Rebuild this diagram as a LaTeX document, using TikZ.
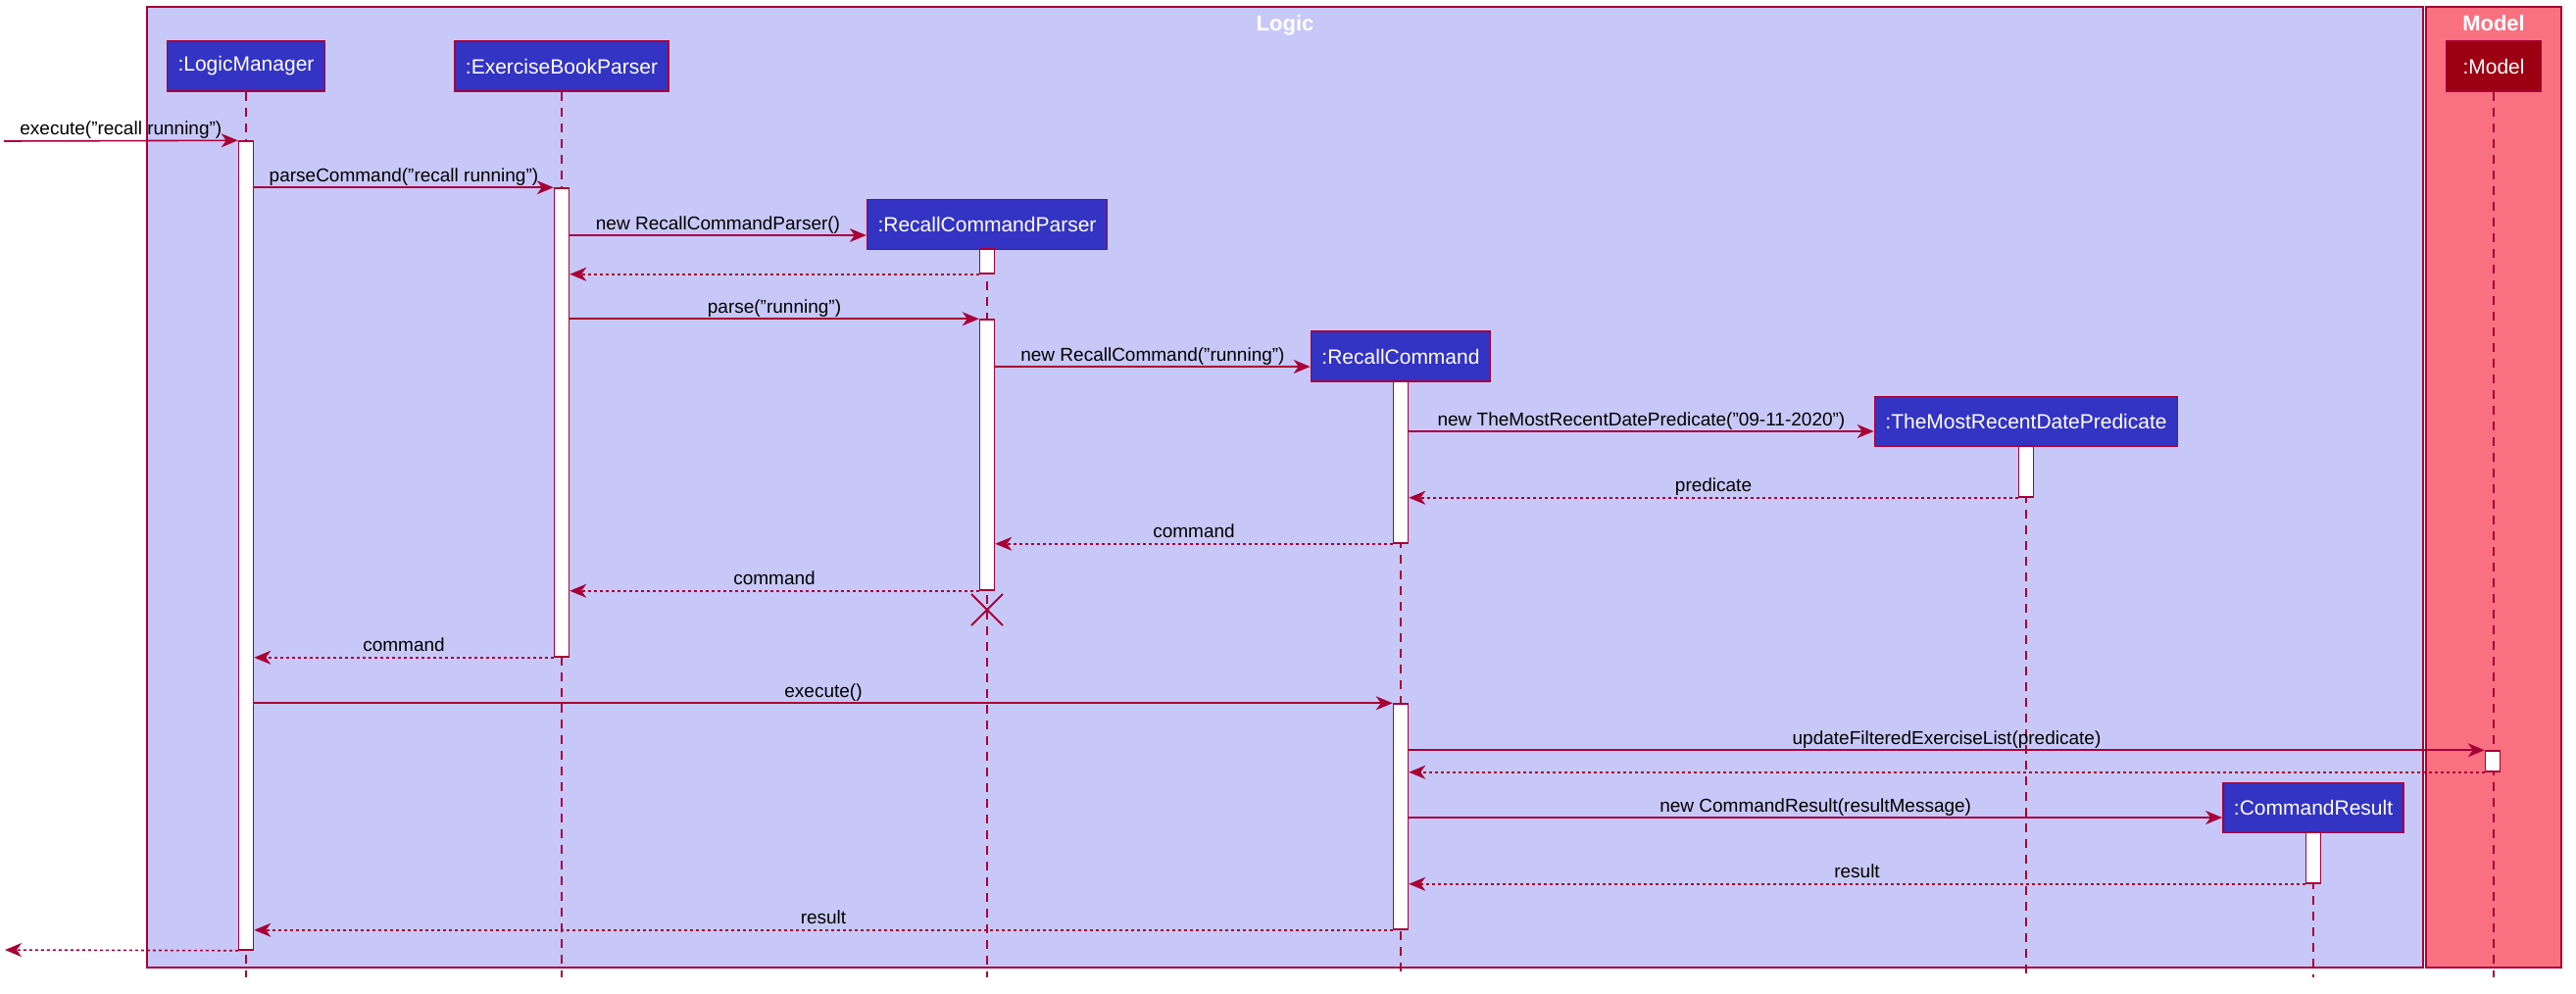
\documentclass[tikz,border=0pt]{standalone}
\usepackage{fontspec}
\setmainfont{Liberation Sans}
\usetikzlibrary{arrows.meta,shapes.misc}

\definecolor{umlline}{RGB}{168,0,54}
\definecolor{logicbg}{RGB}{200,200,248}
\definecolor{modelbg}{RGB}{249,113,129}
\definecolor{logicpart}{RGB}{51,51,196}
\definecolor{modelpart}{RGB}{157,0,18}

\tikzset{
  grpbox/.style={draw=umlline, line width=1.5pt, inner sep=0pt},
  grptitle/.style={anchor=base, text=white, inner sep=0pt, font=\fontsize{22}{26}\selectfont\bfseries},
  part/.style={draw=umlline, line width=1.5pt, fill=logicpart, text=white,
    font=\fontsize{21}{24}\selectfont, minimum height=51pt, inner xsep=11pt},
  actbar/.style={draw=umlline, line width=1.5pt, fill=white, minimum width=15pt, inner sep=0pt},
  lifeline/.style={draw=umlline, line width=1.5pt, dash pattern=on 9pt off 7pt},
  msg/.style={draw=umlline, line width=1.6pt, -{Stealth[length=17pt,width=14pt,inset=5pt]}},
  ret/.style={msg, dash pattern=on 3pt off 3pt},
  lbl/.style={midway, anchor=base, yshift=6pt, text=black, inner sep=0pt,
    font=\fontsize{19}{22}\selectfont},
}

\begin{document}
\begin{tikzpicture}[x=1pt, y=-1pt]

      \useasboundingbox (0,0) rectangle (2628,1013);

      % boxes
      \node[grpbox, fill=logicbg, minimum width=2322pt, minimum height=980pt] (logicbox) at (1311,497) {};
      \node[grpbox, fill=modelbg, minimum width=138pt, minimum height=980pt] (modelbox) at (2544,497) {};
      \node[grptitle] (logictitle) at ([yshift=-25pt]logicbox.north) {Logic};
      \node[grptitle] (modeltitle) at ([yshift=-25pt]modelbox.north) {Model};

      \begin{scope}[every node/.style={part}]
        \node (lm)    at (251,67.5)   {:LogicManager};
        \node (ebp)   at (573,67.5)   {:ExerciseBookParser};
        \node (rcp)   at (1007,229)   {:RecallCommandParser};
        \node (rc)    at (1429,363.5) {:RecallCommand};
        \node (pred)  at (2067,430)   {:TheMostRecentDatePredicate};
        \node (cr)    at (2360,824)   {:CommandResult};
        \node[fill=modelpart, minimum width=97pt] (model) at (2544,67.5) {:Model};
      \end{scope}

      \coordinate (bottom) at (0,997);
      \coordinate (in)     at (4,144);
      \coordinate (out)    at (5,969);
      \coordinate (rcpIn)  at ([yshift=-11pt]rcp.west);
      \coordinate (rcIn)   at ([yshift=-10.5pt]rc.west);
      \coordinate (predIn) at ([yshift=-10pt]pred.west);
      \coordinate (crIn)   at ([yshift=-10pt]cr.west);

      % lifelines
      \draw[lifeline] (lm.south)    -- (lm.south |- bottom);
      \draw[lifeline] (ebp.south)   -- (ebp.south |- bottom);
      \draw[lifeline] (rcp.south)   -- (rcp.south |- bottom);
      \draw[lifeline] (rc.south)    -- (rc.south |- bottom);
      \draw[lifeline] (pred.south)  -- (pred.south |- bottom);
      \draw[lifeline] (cr.south)    -- (cr.south |- bottom);
      \draw[lifeline] (model.south) -- (model.south |- bottom);

      % activations
      \begin{scope}[every node/.style={actbar}]
        \node[minimum height=825pt] (lmA)    at (251,556.5)  {};
        \node[minimum height=478pt] (ebpA)   at (573,431)    {};
        \node[minimum height=25pt]  (rcpA1)  at (1007,266.5) {};
        \node[minimum height=276pt] (rcpA2)  at (1007,464)   {};
        \node[minimum height=165pt] (rcA1)   at (1429,471.5) {};
        \node[minimum height=230pt] (rcA2)   at (1429,833)   {};
        \node[minimum height=52pt]  (predA)  at (2067,481)   {};
        \node[minimum height=21pt]  (modelA) at (2543,776.5) {};
        \node[minimum height=52pt]  (crA)    at (2360,875)   {};
      \end{scope}

      \node[cross out, draw=umlline, line width=2pt, minimum size=30pt, inner sep=0pt] (rcpX) at (1007,622) {};

      % calls
      \draw[msg] (in) -- (lmA.north west) node[lbl] {execute("recall running")};
      \draw[msg] (lmA.east |- ebpA.north) -- (ebpA.north west) node[lbl] {parseCommand("recall running")};
      \draw[msg] (ebpA.east |- rcpIn) -- (rcpIn) node[lbl] {new RecallCommandParser()};
      \draw[msg] (ebpA.east |- rcpA2.north) -- (rcpA2.north west) node[lbl] {parse("running")};
      \draw[msg] (rcpA2.east |- rcIn) -- (rcIn) node[lbl] {new RecallCommand("running")};
      \draw[msg] (rcA1.east |- predIn) -- (predIn) node[lbl] {new TheMostRecentDatePredicate("09-11-2020")};
      \draw[msg] (lmA.east |- rcA2.north) -- (rcA2.north west) node[lbl] {execute()};
      \draw[msg] (rcA2.east |- modelA.north) -- (modelA.north west) node[lbl] {updateFilteredExerciseList(predicate)};
      \draw[msg] (rcA2.east |- crIn) -- (crIn) node[lbl] {new CommandResult(resultMessage)};

      % returns
      \draw[ret] (rcpA1.south west) -- (ebpA.east |- rcpA1.south);
      \draw[ret] (predA.south west) -- (rcA1.east |- predA.south) node[lbl] {predicate};
      \draw[ret] (rcA1.south west) -- (rcpA2.east |- rcA1.south) node[lbl] {command};
      \draw[ret] (rcpA2.south west) -- (ebpA.east |- rcpA2.south) node[lbl] {command};
      \draw[ret] (ebpA.south west) -- (lmA.east |- ebpA.south) node[lbl] {command};
      \draw[ret] (modelA.south west) -- (rcA2.east |- modelA.south);
      \draw[ret] (crA.south west) -- (rcA2.east |- crA.south) node[lbl] {result};
      \draw[ret] (rcA2.south west) -- (lmA.east |- rcA2.south) node[lbl] {result};
      \draw[ret] (lmA.south west) -- (out);

    \end{tikzpicture}
\end{document}
